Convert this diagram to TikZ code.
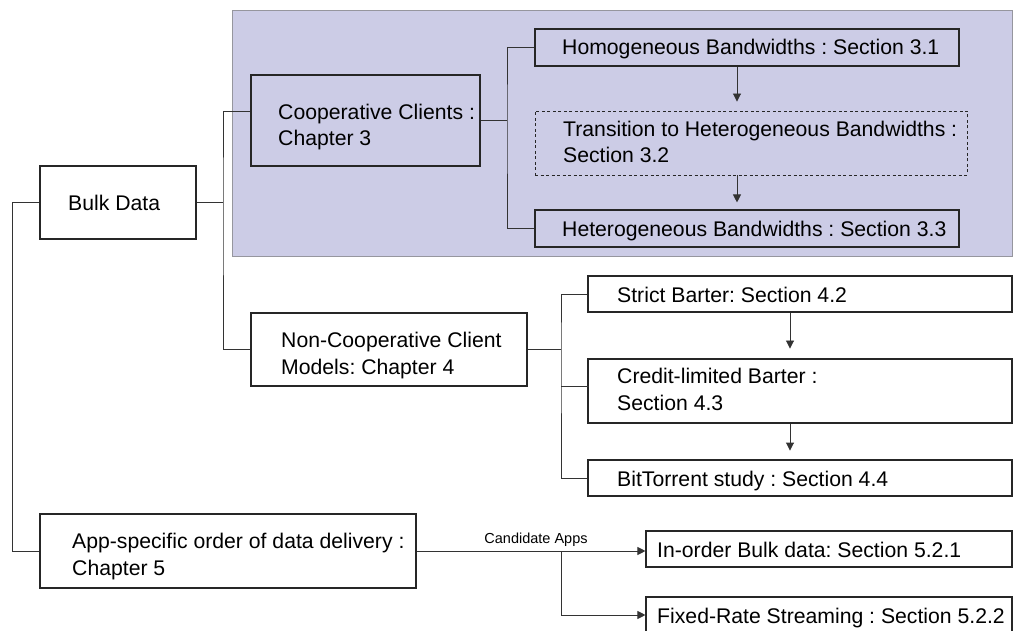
\documentclass[tikz,border=0pt]{standalone}
\usepackage{fontspec}
\setmainfont{Liberation Sans}
\frenchspacing
\usetikzlibrary{arrows.meta}
\definecolor{groupfill}{RGB}{204,204,230}
\definecolor{groupline}{RGB}{150,150,158}
\begin{document}
\begin{tikzpicture}[x=1pt,y=-1pt,
  box/.style={draw=black!85,line width=1.1pt,inner sep=0pt},
  dashbox/.style={box,dash pattern=on 3pt off 2.5pt,line width=0.9pt},
  txt/.style={font=\fontsize{21.2}{26.3}\selectfont,align=left,inner sep=0pt},
  small/.style={font=\fontsize{14.5}{17}\selectfont,inner sep=0pt},
  wire/.style={draw=black!80,line width=0.9pt},
  arr/.style={wire,-{Triangle[length=8pt,width=8pt]}},
  region/.style={fill=groupfill,draw=groupline,line width=1pt}]
\useasboundingbox (0,0) rectangle (1013,631);
% box helper: name, x1, y1, x2, y2
\newcommand\mkbox[6][box]{\node[#1,minimum width={#5-#3},minimum height={#6-#4}] (#2) at ({(#3+#5)/2},{(#4+#6)/2}) {};}

% shaded group for the cooperative chapter
\mkbox[region]{grp}{232}{11}{1012}{257}

% boxes
\mkbox{bulk}{40}{166}{196}{239}
\mkbox{coop}{251}{75}{480}{166}
\mkbox{noncoop}{251}{313}{527}{386}
\mkbox{app}{40}{514}{416}{588}
\mkbox{homog}{535}{29}{959}{66}
\mkbox[dashbox]{trans}{535}{111}{967}{175}
\mkbox{hetero}{535}{210}{959}{247}
\mkbox{strict}{588}{276}{1012}{312}
\mkbox{credit}{588}{359}{1012}{423}
\mkbox{bittor}{588}{460}{1012}{496}
\mkbox{inorder}{646}{531}{1012}{567}
\mkbox{fixed}{646}{597}{1012}{633}

% box texts
\node[txt,anchor=base west] (bulkT) at (68,211) {Bulk Data};
\node[txt,anchor=west] (coopT) at (278,127) {Cooperative Clients :\\Chapter 3};
\node[txt,anchor=west] (noncoopT) at (281,355.5) {Non-Cooperative Client\\Models: Chapter 4};
\node[txt,anchor=west] (appT) at (72,556.5) {App-specific order of data delivery :\\Chapter 5};
\node[txt,anchor=base west] (homogT) at (562,55) {Homogeneous Bandwidths : Section 3.1};
\node[txt,anchor=west] (transT) at (563,142) {Transition to Heterogeneous Bandwidths :\\Section 3.2};
\node[txt,anchor=base west] (heteroT) at (562,236.7) {Heterogeneous Bandwidths : Section 3.3};
\node[txt,anchor=base west] (strictT) at (617,302.7) {Strict Barter: Section 4.2};
\node[txt,anchor=west] (creditT) at (617,389.5) {Credit-limited Barter :\\Section 4.3};
\node[txt,anchor=base west] (bittorT) at (617,486) {BitTorrent study : Section 4.4};
\node[txt,anchor=base west] (inorderT) at (657,557.7) {In-order Bulk data: Section 5.2.1};
\node[txt,anchor=base west] (fixedT) at (657,623) {Fixed-Rate Streaming : Section 5.2.2};

% junction points and arrow columns
\coordinate (j0) at (12,551);
\coordinate (j1) at (223,202.5);
\coordinate (j2) at (507,120.5);
\coordinate (j3) at (561,349.5);
\coordinate (j4) at (561,551);
\coordinate (a1) at (737,0);
\coordinate (a2) at (790,0);

% tree connectors
\draw[wire] (bulk.west) -| (j0) -- (app.west);
\draw[wire] (bulk.east) -- (j1);
\draw[wire] (coop.west |- 0,111) -| (j1) |- (noncoop.west);
\draw[wire] (coop.east) -- (j2);
\draw[wire] (homog.west) -| (j2) |- (hetero.west);
\draw[wire] (noncoop.east) -- (j3);
\draw[wire] (strict.west) -| (j3) |- (bittor.west);
\draw[wire] (j3 |- 0,386) -- ([xshift=2pt]credit.west |- 0,386);

% sequence arrows
\draw[arr] (homog.south -| a1) -- ++(0,35);
\draw[arr] (trans.south -| a1) -- ++(0,27);
\draw[arr] (strict.south -| a2) -- ++(0,36);
\draw[arr] (credit.south -| a2) -- ++(0,27);

% candidate applications
\draw[arr] (app.east) -- (inorder.west |- app.east);
\draw[arr] (j4) |- (fixed.west);
\node[small,anchor=base] (cand) at (536,543) {Candidate Apps};
\end{tikzpicture}
\end{document}
